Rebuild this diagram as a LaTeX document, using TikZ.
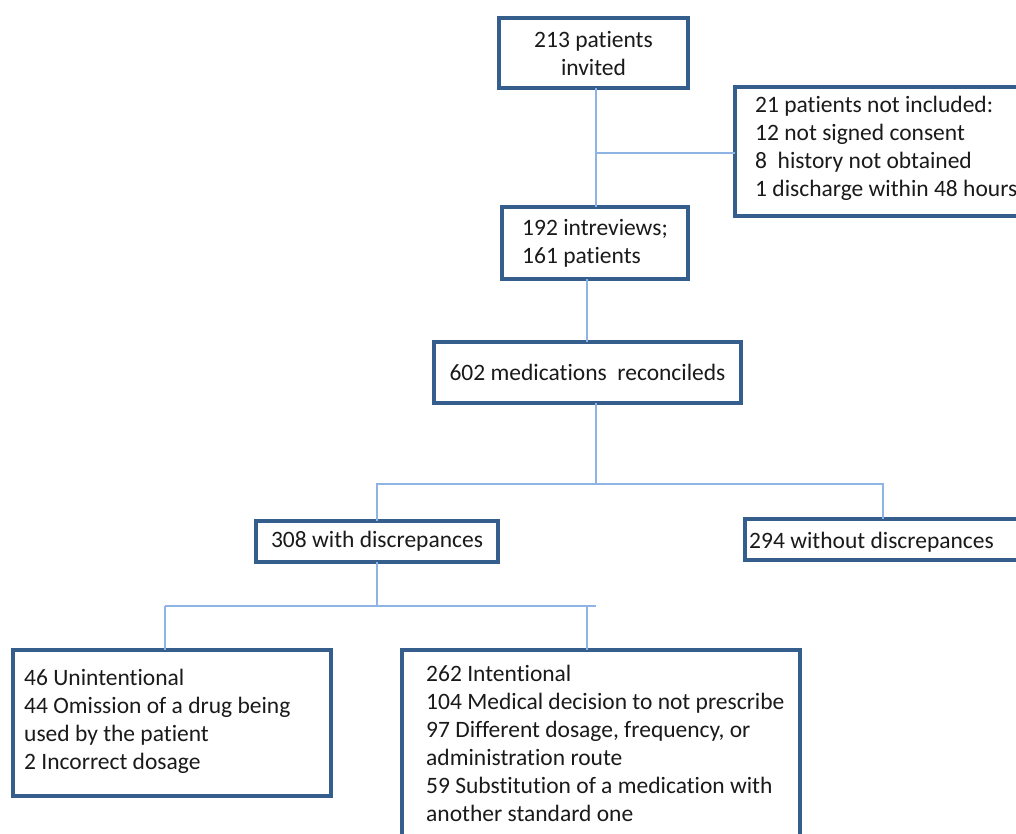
\documentclass[tikz,border=0pt]{standalone}
\usepackage{fontspec}
\setmainfont{Carlito}[Ligatures={NoCommon}]
\definecolor{boxblue}{HTML}{355E8C}
\definecolor{connblue}{HTML}{8EB4E3}
\definecolor{txt}{HTML}{1A1A1A}
\begin{document}
\begin{tikzpicture}[x=1pt,y=-1pt,
  box/.style={draw=boxblue,line width=4pt,fill=white,outer sep=0pt,inner sep=0pt,
    font=\fontsize{23.5}{28}\selectfont,text=txt},
  tbox/.style={inner sep=0pt,align=left,anchor=west,
    font=\fontsize{23.5}{28}\selectfont,text=txt},
  conn/.style={draw=connblue,line width=1.5pt}]
\path[use as bounding box] (0,0) rectangle (1016,833);
\clip (0,0) rectangle (1016,833);
% boxes
\node[box,minimum width=189pt,minimum height=70pt,align=center] (b1) at (593.5,53) {213 patients\\invited};
\node[box,minimum width=293pt,minimum height=129pt] (ex) at (881.5,151.5) {};
\node[tbox] (ext) at (755,148) {21 patients not included:\\12 not signed consent\\8~ history not obtained\\1 discharge within 48 hours};
\node[box,minimum width=186pt,minimum height=72pt,align=left] (b2) at (595,243) {192 intreviews;\\161 patients};
\node[box,minimum width=307pt,minimum height=61pt] (b3) at (587.5,372.5) {602 medications~ reconcileds};
\node[box,minimum width=242pt,minimum height=41pt] (b4) at (377,541.5) {308 with discrepances};
\node[box,minimum width=290pt,minimum height=41pt] (b5) at (890,539.5) {};
\node[tbox] (b5t) at (749,542) {294 without discrepances};
\node[box,minimum width=318pt,minimum height=146pt] (b6) at (172,723) {};
\node[tbox] (b6t) at (24,721.5) {46 Unintentional\\44 Omission of a drug being\\used by the patient\\2 Incorrect dosage};
\node[box,minimum width=398pt,minimum height=190pt] (b7) at (601,745) {};
\node[tbox] (b7t) at (426,743.5) {262 Intentional\\104 Medical decision to not prescribe\\97 Different dosage, frequency, or\\administration route\\59 Substitution of a medication with\\another standard one};
% connectors
\coordinate (j1) at (596,153);
\draw[conn] (b1.south -| j1) -- (b2.north -| j1);
\draw[conn] (j1) -- (ex.west |- j1);
\coordinate (c2) at (587,300);
\draw[conn] (b2.south -| c2) -- (b3.north -| c2);
\coordinate (j3) at (596,484);
\coordinate (j5) at (883,484);
\draw[conn] (b3.south -| j3) -- (j3);
\draw[conn] (b4.north) |- (j3) -- (j5) -- (j5 |- b5.north);
\coordinate (j4) at (377,606);
\coordinate (k6) at (165,606);
\coordinate (k7) at (596,606);
\coordinate (k8) at (587,606);
\draw[conn] (b4.south) -- (j4);
\draw[conn] (k6) -- (k7);
\draw[conn] (k6) -- (k6 |- b6.north);
\draw[conn] (k8) -- (k8 |- b7.north);
\end{tikzpicture}
\end{document}
